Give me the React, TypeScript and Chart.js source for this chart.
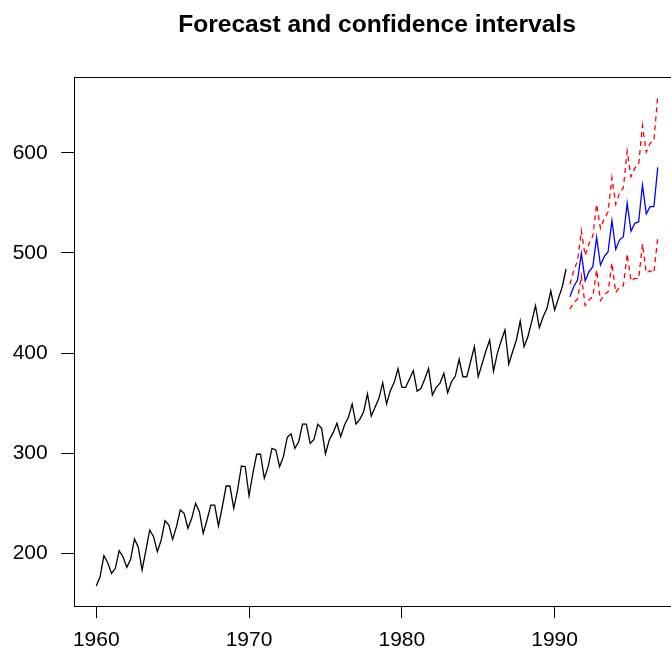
import React, { useEffect, useRef } from "react";
import { Chart, registerables } from "chart.js";

Chart.register(...registerables);

const START_YEAR = 1960;
const FREQ = 4;

const observed: number[] = [
  167.4, 176.6, 197.6, 190.6,
  180.0, 185.0, 202.6, 196.6,
  186.0, 194.0, 214.3, 206.0,
  183.3, 203.3, 223.3, 216.6,
  201.6, 213.3, 232.5, 228.2,
  213.9, 226.6, 243.2, 239.9,
  225.0, 235.0, 249.9, 241.5,
  220.0, 233.3, 248.2, 248.2,
  227.3, 246.5, 267.2, 267.2,
  244.9, 263.2, 287.2, 286.5,
  257.5, 279.9, 298.9, 298.9,
  274.9, 286.5, 304.8, 303.2,
  286.5, 296.5, 315.8, 319.1,
  304.8, 311.4, 329.1, 329.1,
  309.8, 313.8, 328.8, 324.8,
  299.2, 313.1, 320.5, 329.8,
  316.4, 328.1, 335.8, 349.1,
  329.1, 333.8, 341.4, 359.1,
  337.1, 345.8, 354.8, 370.3,
  349.1, 362.4, 370.7, 384.3,
  365.7, 365.7, 374.0, 382.3,
  362.0, 364.5, 374.0, 384.7,
  358.1, 365.7, 370.0, 379.7,
  360.4, 371.3, 377.0, 393.7,
  376.3, 376.3, 391.3, 406.3,
  376.3, 389.0, 402.0, 413.0,
  381.7, 399.7, 412.0, 423.0,
  389.0, 401.3, 413.0, 431.9,
  406.3, 416.3, 431.3, 447.2,
  425.3, 436.2, 444.6, 461.9,
  442.9, 454.6, 466.2, 483.9,
];

const FORECAST_START = 1991;

const forecast: number[] = [
  456.2, 466.2, 472.9, 499.5,
  472.2, 481.2, 486.2, 515.5,
  487.9, 496.2, 501.1, 532.1,
  503.5, 512.8, 516.1, 549.5,
  521.5, 529.5, 531.1, 567.7,
  539.0, 546.1, 546.1, 585.4,
];

const upper: number[] = [
  468.7, 482.2, 491.9, 522.0,
  497.2, 509.2, 516.7, 548.5,
  524.5, 534.2, 541.1, 575.0,
  548.5, 559.8, 565.1, 601.5,
  576.0, 584.5, 588.1, 627.0,
  600.5, 609.5, 612.1, 657.0,
];

const lower: number[] = [
  443.7, 450.2, 453.9, 477.0,
  447.5, 453.2, 456.0, 483.0,
  452.4, 458.2, 461.1, 490.0,
  460.5, 465.8, 467.1, 499.0,
  472.0, 474.5, 474.1, 509.0,
  480.0, 482.1, 480.1, 515.5,
];

const xTicks: number[] = [1960, 1970, 1980, 1990];
const yTicks: number[] = [200, 300, 400, 500, 600];

const TITLE = "Forecast and confidence intervals";

const toPoints = (vals: number[], start: number) =>
  vals.map((v, i) => ({ x: start + i / FREQ, y: v }));

export default function App() {
  const ref = useRef<HTMLCanvasElement | null>(null);

  useEffect(() => {
    if (!ref.current) return;
    const W = 700;
    const H = 654;
    const boxLeft = 73.8;
    const boxRight = 680.2;
    const boxTop = 76.6;
    const boxBottom = 605.6;
    const tickLen = 12.6;
    const font = "'Liberation Sans', Arial, Helvetica, sans-serif";

    const framePlugin = {
      id: "frameAndTitle",
      afterDraw(chart: any) {
        const { ctx, chartArea } = chart;
        ctx.save();
        ctx.strokeStyle = "#000";
        ctx.lineWidth = 1;
        ctx.strokeRect(
          Math.round(chartArea.left) + 0.5,
          Math.round(chartArea.top) + 0.5,
          Math.round(chartArea.right - chartArea.left),
          Math.round(chartArea.bottom - chartArea.top)
        );
        ctx.fillStyle = "#000";
        ctx.font = `bold 24.6px ${font}`;
        ctx.textAlign = "center";
        ctx.textBaseline = "alphabetic";
        ctx.fillText(TITLE, (chartArea.left + chartArea.right) / 2, 32.3);
        ctx.restore();
      },
    };

    const line = (data: any[], color: string, dash: number[] = []) => ({
      data,
      borderColor: color,
      backgroundColor: color,
      borderWidth: 1.3,
      borderDash: dash,
      pointRadius: 0,
      tension: 0,
      fill: false,
    });

    const chart = new Chart(ref.current, {
      type: "line",
      data: {
        datasets: [
          line(toPoints(observed, START_YEAR), "#000000"),
          line(toPoints(forecast, FORECAST_START), "#0000ff"),
          line(toPoints(upper, FORECAST_START), "#ff0000", [5, 4]),
          line(toPoints(lower, FORECAST_START), "#ff0000", [5, 4]),
        ],
      },
      options: {
        animation: false,
        responsive: false,
        events: [],
        layout: {
          padding: { top: boxTop, left: 0, right: W - boxRight, bottom: 0 },
        },
        plugins: {
          legend: { display: false },
          tooltip: { enabled: false },
          title: { display: false },
        },
        scales: {
          x: {
            type: "linear",
            min: 1958.53,
            max: 1998.22,
            afterBuildTicks: (s: any) => {
              s.ticks = xTicks.map((v) => ({ value: v }));
            },
            afterFit: (s: any) => {
              s.height = H - boxBottom;
            },
            grid: {
              drawOnChartArea: false,
              drawTicks: true,
              tickLength: tickLen,
              color: "#000",
              lineWidth: 1,
            },
            border: { display: false },
            ticks: {
              color: "#000",
              font: { family: font, size: 21 },
              padding: 9,
              maxRotation: 0,
              autoSkip: false,
              callback: (v: any) => String(v),
            },
          },
          y: {
            type: "linear",
            min: 147.8,
            max: 676.0,
            afterBuildTicks: (s: any) => {
              s.ticks = yTicks.map((v) => ({ value: v }));
            },
            afterFit: (s: any) => {
              s.width = boxLeft;
            },
            grid: {
              drawOnChartArea: false,
              drawTicks: true,
              tickLength: tickLen,
              color: "#000",
              lineWidth: 1,
            },
            border: { display: false },
            ticks: {
              color: "#000",
              font: { family: font, size: 21 },
              padding: 13.5,
              autoSkip: false,
              callback: (v: any) => String(v),
            },
          },
        },
      },
      plugins: [framePlugin],
    });

    return () => chart.destroy();
  }, []);

  return (
    <div
      style={{
        position: "fixed",
        left: 0,
        top: 0,
        width: 671,
        height: 654,
        overflow: "hidden",
        background: "#fff",
      }}
    >
      <canvas ref={ref} width={700} height={654} style={{ display: "block" }} />
    </div>
  );
}
